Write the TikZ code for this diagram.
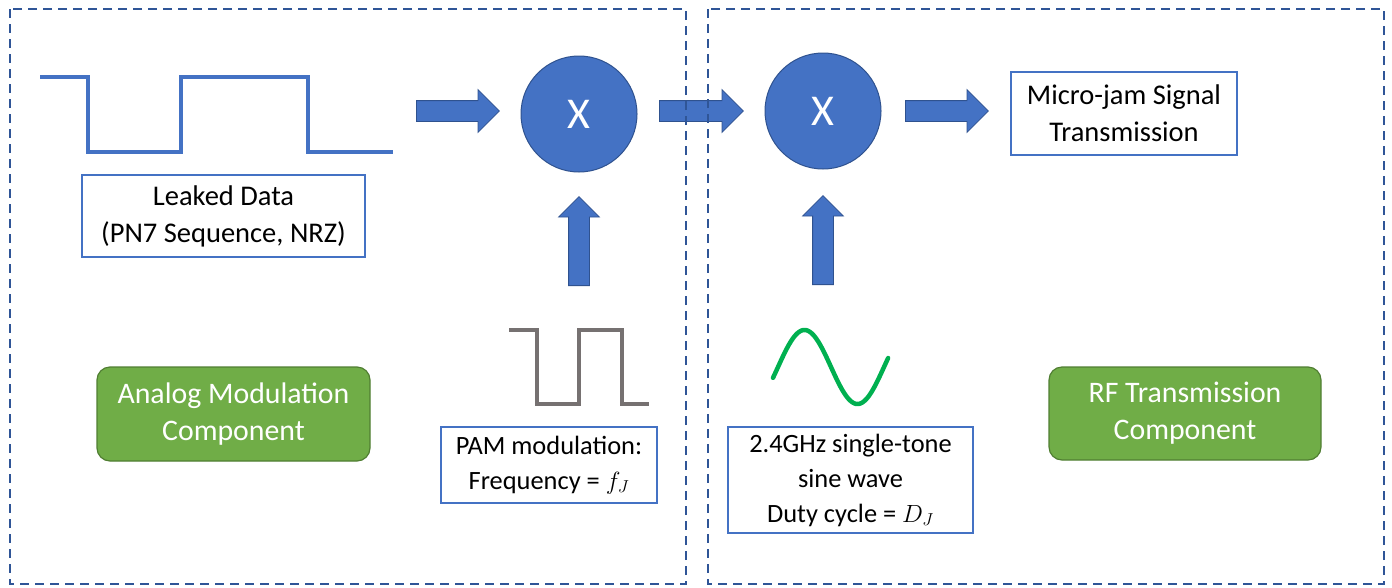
\documentclass[tikz,border=0pt]{standalone}
\usepackage{fontspec}
\setmainfont{Carlito}
\usetikzlibrary{shapes.arrows}
\definecolor{accent}{HTML}{4472C4}
\definecolor{accentdark}{HTML}{2F528F}
\definecolor{frame}{HTML}{2F5597}
\definecolor{compgreen}{HTML}{70AD47}
\definecolor{compgreendark}{HTML}{507E32}
\definecolor{graywave}{HTML}{767171}
\definecolor{sinegreen}{HTML}{00B050}
\tikzset{
  section/.style={draw=frame, line width=2, dash pattern=on 9 off 6},
  labelbox/.style={draw=accent, line width=1.5, fill=white, inner sep=0, align=center,
    font=\fontsize{28.5}{37}\selectfont},
  smalllabel/.style={labelbox, font=\fontsize{26.4}{35}\selectfont},
  component/.style={draw=compgreendark, line width=1.2, fill=compgreen, rounded corners=13,
    inner sep=0, align=center, text=white, font=\fontsize{29.8}{37}\selectfont},
  mixer/.style={circle, draw=accentdark, line width=1, fill=accent, minimum size=116,
    inner sep=0, text=white, font=\fontsize{44}{50}\selectfont},
  blockarrow/.style={single arrow, draw=accentdark, line width=0.8, fill=accent,
    inner sep=10, single arrow tip angle=90},
  wave/.style={line width=4.2, miter limit=10}
}
\begin{document}
\begin{tikzpicture}[x=1pt,y=-1pt]
\useasboundingbox (0,0) rectangle (1392,587);

% leaked data waveform (NRZ)
\draw[wave, accent] (40,77) -- (88,77) -- (88,152) -- (181,152) -- (181,77)
  -- (308,77) -- (308,152) -- (393,152);
\node[labelbox, minimum width=283, minimum height=82] (data) at (223.5,216)
  {Leaked Data\\(PN7 Sequence, NRZ)};

% mixers
\node[mixer] (mixA) at (579,114) {X};
\node[mixer] (mixB) at (823,111) {X};

% horizontal block arrows
\node[blockarrow, single arrow head extend=11, minimum height=83, anchor=tail] (arrA) at (416,111) {};
\node[blockarrow, single arrow head extend=11, minimum height=84, anchor=tail] (arrB) at (659,111) {};
\node[blockarrow, single arrow head extend=11, minimum height=83, anchor=tail] (arrC) at (905,111) {};

% vertical block arrows into the mixers
\node[blockarrow, single arrow head extend=10, shape border rotate=90, minimum height=89, anchor=tail] (upA) at (579,286) {};
\node[blockarrow, single arrow head extend=10, shape border rotate=90, minimum height=89, anchor=tail] (upB) at (823,285) {};

% output
\node[labelbox, minimum width=226, minimum height=83] (out) at (1124,113.5)
  {Micro-jam Signal\\Transmission};

% PAM square wave
\draw[wave, graywave] (509,330) -- (537,330) -- (537,404) -- (579,404) -- (579,330)
  -- (622,330) -- (622,404) -- (649,404);
\node[smalllabel, minimum width=216, minimum height=76] (pam) at (549,465)
  {PAM modulation:\\Frequency = $f_J$};

% carrier sine wave
\draw[line width=4.5, sinegreen, line cap=round] plot[domain=-17:374, samples=90, smooth]
  ({831+(\x-180)*53/180}, {367-37*sin(\x)});
\node[smalllabel, minimum width=245, minimum height=106] (carrier) at (850.5,480)
  {2.4GHz single-tone\\sine wave\\Duty cycle = $D_J$};

% component labels
\node[component, minimum width=273, minimum height=94] (analog) at (233.5,414)
  {Analog Modulation\\Component};
\node[component, minimum width=272, minimum height=93] (rf) at (1185,413.5)
  {RF Transmission\\Component};

% the two sections, drawn last so their borders lie over the linking arrow
\draw[section] (10,9) rectangle (686,584);
\draw[section] (708,9) rectangle (1384,584);
\end{tikzpicture}
\end{document}
